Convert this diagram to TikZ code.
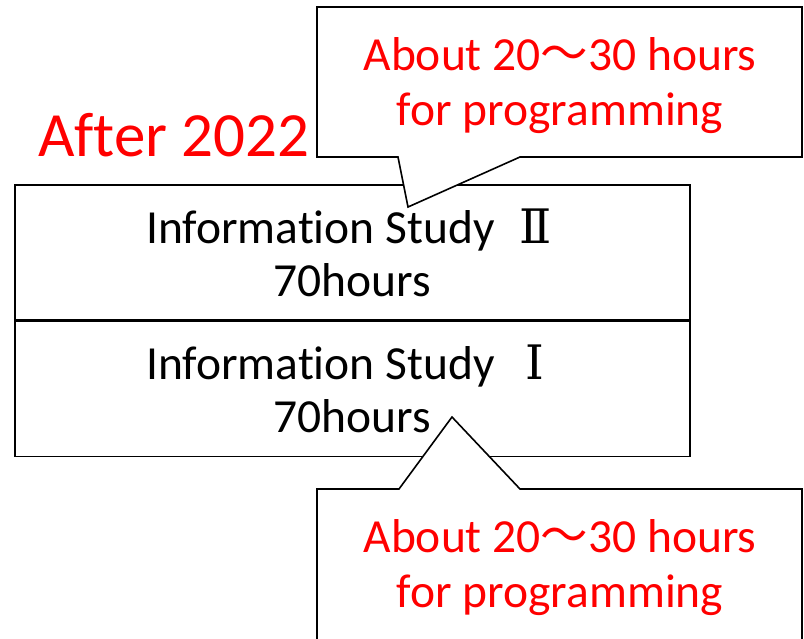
\documentclass[tikz,border=0pt]{standalone}
\usepackage{fontspec}
\setmainfont{Carlito}[Ligatures=NoCommon]
\newfontfamily\cjk{Noto Sans CJK JP}
\newfontfamily\numeral{DejaVu Serif}
\newcommand\rnum[1]{\hspace{0.35em}\makebox[1em][c]{\numeral #1}}
\usepackage{tikz}
\usetikzlibrary{positioning}

\begin{document}
\begin{tikzpicture}[x=1pt, y=-1pt,
    cell/.style={draw, line width=1.6pt, minimum width=675pt, minimum height=135pt,
      inner sep=0pt, align=center, font=\fontsize{47.5}{53}\selectfont},
    bubble/.style={draw, line width=1.6pt, fill=white, line join=miter},
    redtext/.style={text=red, inner sep=0pt, align=center, font=\fontsize{47.5}{55}\selectfont}]
    \useasboundingbox (0,0) rectangle (804,638);
    \clip (0,0) rectangle (804,638);

    % the two courses
    \node[cell] (studytwo) at (352.5,252.5) {Information Study\rnum{Ⅱ}\\70hours};
    \node[cell, below=0pt of studytwo] (studyone) {Information Study\rnum{Ⅰ}\\70hours};

    \node[text=red, inner sep=0pt, anchor=base west, font=\fontsize{63}{70}\selectfont]
      (after) at (38,156) {After 2022};

    % Draw the callouts and their pointers
    \def\bl{317}
    \def\br{802}
    \coordinate (tiptwo) at (408,207);
    \coordinate (tipone) at (452,417);

    \draw[bubble] (\bl,7) -- (\br,7) -- (\br,157) -- (520,157) -- (tiptwo)
      -- (398,157) -- (\bl,157) -- cycle;
    \draw[bubble] (\bl,489) -- (399,489) -- (tipone) -- (520,489)
      -- (\br,489) -- (\br,680) -- (\bl,680) -- cycle;

    \node[redtext] (progtwo) at (560,86) {About 20{\cjk ～}30 hours\\for programming};
    \node[redtext] (progone) at (560,568) {About 20{\cjk ～}30 hours\\for programming};
\end{tikzpicture}
\end{document}
